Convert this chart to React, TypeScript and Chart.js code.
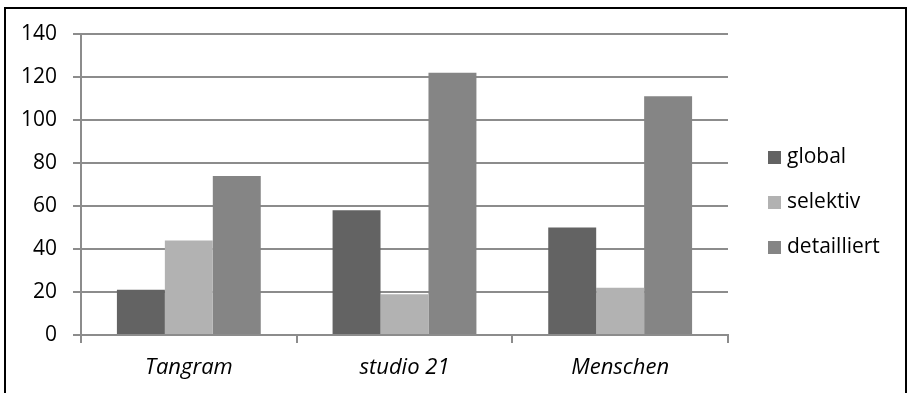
import React, { useEffect, useRef } from "react";
import { Chart, registerables } from "chart.js";

Chart.register(...registerables);

const categories = ["Tangram", "studio 21", "Menschen"];
const seriesNames = ["global", "selektiv", "detailliert"];
const globalValues = [21, 58, 50];
const selektivValues = [44, 19, 22];
const detailliertValues = [74, 122, 111];
const seriesColors = ["#636363", "#b2b2b2", "#858585"];
const yTicks = [0, 20, 40, 60, 80, 100, 120, 140];

const FONT = "'Open Sans', Lato, sans-serif";

const legendPlugin = {
  id: "sideLegend",
  afterDraw(chart: any) {
    const ctx = chart.ctx;
    const area = chart.chartArea;
    const x = area.right + 40;
    const y0 = area.top + 123;
    ctx.save();
    ctx.font = `21px ${FONT}`;
    ctx.textBaseline = "middle";
    ctx.textAlign = "left";
    chart.data.datasets.forEach((ds: any, i: number) => {
      const y = y0 + i * 45;
      ctx.fillStyle = ds.backgroundColor;
      ctx.fillRect(x, y - 6, 13, 13);
      ctx.fillStyle = "#000";
      ctx.fillText(ds.label, x + 19, y);
    });
    ctx.restore();
  },
};

export default function App() {
  const ref = useRef<HTMLCanvasElement>(null);
  useEffect(() => {
    if (!ref.current) return;
    const data = [globalValues, selektivValues, detailliertValues];
    const chart = new Chart(ref.current, {
      type: "bar",
      data: {
        labels: categories,
        datasets: seriesNames.map((name, i) => ({
          label: name,
          data: data[i],
          backgroundColor: seriesColors[i],
          borderWidth: 0,
          categoryPercentage: 0.667,
          barPercentage: 1,
        })),
      },
      options: {
        responsive: false,
        animation: false,
        layout: { padding: { left: 0, top: 34, right: 181, bottom: 0 } },
        plugins: {
          legend: { display: false },
          tooltip: { enabled: false },
        },
        scales: {
          x: {
            grid: {
              display: true,
              drawOnChartArea: false,
              drawTicks: true,
              tickLength: 8,
              color: "#8c8c8c",
              lineWidth: 2,
            },
            border: { display: true, color: "#8c8c8c", width: 2 },
            ticks: {
              color: "#000",
              font: { family: FONT, size: 22, style: "italic" },
              padding: 12,
            },
            afterFit(scale: any) {
              scale.height = 58;
            },
          },
          y: {
            min: 0,
            max: 140,
            afterBuildTicks(scale: any) {
              scale.ticks = yTicks.map((v) => ({ value: v }));
            },
            grid: {
              color: "#8c8c8c",
              lineWidth: 2,
              tickLength: 8,
              drawTicks: true,
            },
            border: { display: true, color: "#8c8c8c", width: 2 },
            ticks: {
              color: "#000",
              font: { family: FONT, size: 21 },
              padding: 16,
            },
            afterFit(scale: any) {
              scale.width = 81;
            },
          },
        },
      },
      plugins: [legendPlugin],
    });
    return () => chart.destroy();
  }, []);

  return (
    <div style={{ position: "fixed", left: 0, top: 0, width: 909, height: 393, background: "#fff", overflow: "hidden" }}>
      <canvas ref={ref} width={909} height={393} style={{ position: "absolute", left: 0, top: 0, display: "block" }} />
      <div
        style={{
          position: "absolute",
          left: 4,
          top: 7,
          width: 899,
          height: 420,
          borderLeft: "2px solid #000",
          borderTop: "2px solid #000",
          borderRight: "2px solid #000",
          pointerEvents: "none",
        }}
      />
    </div>
  );
}
